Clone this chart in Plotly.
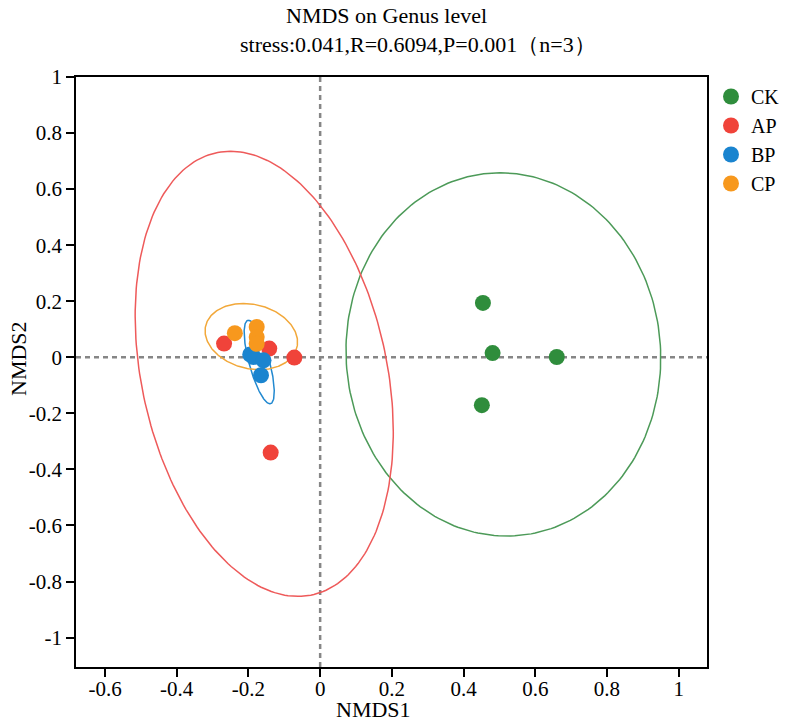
import numpy as np
import plotly.graph_objects as go

# 样本坐标
groups = ["CK", "AP", "BP", "CP"]
ck_x = [0.454, 0.481, 0.660, 0.451]
ck_y = [0.194, 0.015, 0.001, -0.171]
ap_x = [-0.268, -0.142, -0.072, -0.138]
ap_y = [0.049, 0.031, -0.001, -0.340]
bp_x = [-0.195, -0.186, -0.158, -0.165]
bp_y = [0.010, 0.001, -0.011, -0.064]
cp_x = [-0.238, -0.177, -0.177, -0.177]
cp_y = [0.086, 0.108, 0.072, 0.048]

# 置信椭圆：中心、半宽、半高、最高点相对中心的 x 偏移
ell_cx = [0.511, -0.156, -0.170, -0.192]
ell_cy = [0.010, -0.059, -0.017, 0.074]
ell_w = [0.439, 0.360, 0.042, 0.129]
ell_h = [0.648, 0.794, 0.149, 0.118]
ell_top_dx = [-0.009, -0.094, -0.030, -0.022]

x_ticks = [-0.6, -0.4, -0.2, 0, 0.2, 0.4, 0.6, 0.8, 1]
x_labels = ["-0.6", "-0.4", "-0.2", "0", "0.2", "0.4", "0.6", "0.8", "1"]
y_ticks = [-1, -0.8, -0.6, -0.4, -0.2, 0, 0.2, 0.4, 0.6, 0.8, 1]
y_labels = ["-1", "-0.8", "-0.6", "-0.4", "-0.2", "0", "0.2", "0.4", "0.6", "0.8", "1"]

title_1 = "NMDS on Genus level"
title_2 = "stress:0.041,R=0.6094,P=0.001（n=3）"

point_colors = ["#2f8d3c", "#f0433a", "#1a84cf", "#f7981d"]
line_colors = ["#4c9a58", "#ee5a5a", "#2289d0", "#f2a83a"]
FONT = "Liberation Serif, Times New Roman, serif"

xs = [ck_x, ap_x, bp_x, cp_x]
ys = [ck_y, ap_y, bp_y, cp_y]

W, H = 789, 723
L, R, T, B = 76, 82, 77, 56
PW, PH = W - L - R, H - T - B


def px_x(sx):
    # 像素横坐标 -> paper 坐标
    return (sx - L) / PW


def px_y(sy):
    return 1 - (sy - T) / PH


fig = go.Figure()

# 椭圆先画，点在上层
t = np.linspace(0, 2 * np.pi, 241)
for i, g in enumerate(groups):
    p = ell_top_dx[i]
    q = np.sqrt(ell_w[i] ** 2 - p ** 2)
    ex = ell_cx[i] + p * np.cos(t) + q * np.sin(t)
    ey = ell_cy[i] + ell_h[i] * np.cos(t)
    fig.add_trace(go.Scatter(
        x=ex, y=ey, mode="lines", showlegend=False, hoverinfo="skip",
        line=dict(color=line_colors[i], width=1.5),
    ))

for i, g in enumerate(groups):
    fig.add_trace(go.Scatter(
        x=xs[i], y=ys[i], mode="markers", name=g,
        marker=dict(color=point_colors[i], size=16, line=dict(width=0)),
    ))

# 零线
zero_line = dict(color="#868686", width=2.5, dash="5px,4px")
fig.add_shape(type="line", xref="x", yref="paper", x0=0, x1=0, y0=0, y1=1,
              line=zero_line, layer="below")
fig.add_shape(type="line", xref="paper", yref="y", x0=0, x1=1, y0=0, y1=0,
              line=zero_line, layer="below")

axis_common = dict(
    showgrid=False, zeroline=False, showline=True, linecolor="black", linewidth=1.5,
    mirror=True, ticks="outside", ticklen=8, tickwidth=1.5, tickcolor="black",
    tickfont=dict(family=FONT, size=21, color="black"),
)

fig.update_xaxes(range=[-0.681, 1.079], tickvals=x_ticks, ticktext=x_labels,
                 ticklabelstandoff=-6, **axis_common)
fig.update_yaxes(range=[-1.105, 1.0], tickvals=y_ticks, ticktext=y_labels, **axis_common)

text_font = dict(family=FONT, size=22, color="black")
fig.add_annotation(text=title_1, xref="paper", yref="paper", x=px_x(386), y=px_y(15),
                   showarrow=False, xanchor="center", yanchor="middle", font=text_font)
fig.add_annotation(text=title_2, xref="paper", yref="paper", x=px_x(418), y=px_y(45),
                   showarrow=False, xanchor="center", yanchor="middle", font=text_font)
fig.add_annotation(text="NMDS1", xref="paper", yref="paper", x=px_x(373), y=px_y(723),
                   showarrow=False, xanchor="center", yanchor="bottom", borderpad=0,
                   font=text_font)
fig.add_annotation(text="NMDS2", xref="paper", yref="paper", x=px_x(18), y=px_y(359),
                   showarrow=False, xanchor="center", yanchor="middle", textangle=-90,
                   font=text_font)

fig.update_layout(
    width=W, height=H,
    margin=dict(l=L, r=R, t=T, b=B, autoexpand=False),
    plot_bgcolor="white", paper_bgcolor="white",
    showlegend=True,
    legend=dict(x=px_x(711), y=px_y(77), xanchor="left", yanchor="top",
                font=dict(family=FONT, size=20, color="black"),
                bgcolor="rgba(0,0,0,0)", itemwidth=30, tracegroupgap=0),
)

# 去掉 body 默认的 8px 外边距，让图从左上角开始
fig.write_html("out.html", config={"displayModeBar": False},
               post_script="document.body.style.margin='0';")
